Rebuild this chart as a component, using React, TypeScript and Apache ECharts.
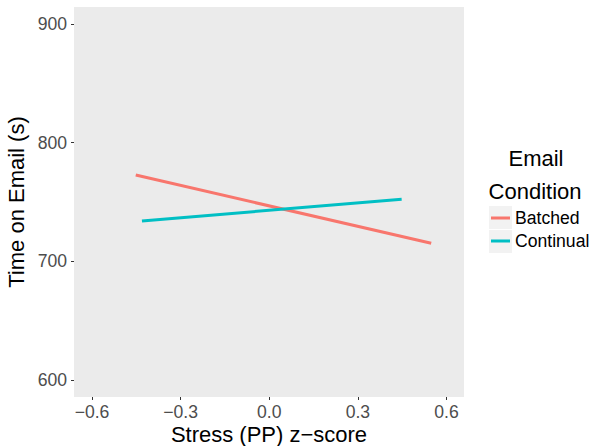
import React, { useEffect, useRef } from "react";
import * as echarts from "echarts";

const seriesNames = ["Batched", "Continual"];
const batchedX = [-0.452, 0.548];
const batchedY = [772.7, 715.2];
const continualX = [-0.431, 0.448];
const continualY = [734.0, 752.3];
const xTicks = [-0.6, -0.3, 0.0, 0.3, 0.6];
const yTicks = [600, 700, 800, 900];
const colors = ["#F8766D", "#00BFC4"];

const FONT = "Liberation Sans, Arial, Helvetica, sans-serif";

export default function App() {
  const ref = useRef<HTMLDivElement>(null);
  useEffect(() => {
    if (!ref.current) return;
    const chart = echarts.init(ref.current, null, { renderer: "svg" });
    const fmtX = (v: number) => (v < 0 ? "\u2212" + Math.abs(v).toFixed(1) : v.toFixed(1));
    chart.setOption({
      animation: false,
      backgroundColor: "#FFFFFF",
      textStyle: { fontFamily: FONT },
      grid: {
        left: 74,
        top: 7,
        width: 390,
        height: 390,
        show: true,
        backgroundColor: "#EBEBEB",
        borderWidth: 0,
        containLabel: false,
        outerBoundsMode: "none",
      },
      xAxis: {
        type: "value",
        min: -0.661,
        max: 0.659,
        name: "Stress (PP) z\u2212score",
        nameLocation: "middle",
        nameGap: 25,
        nameMoveOverlap: false,
        nameTextStyle: { color: "#000", fontSize: 22, lineHeight: 24, fontFamily: FONT },
        axisLine: { show: false, onZero: false },
        splitLine: { show: false },
        axisTick: { show: true, length: 3, lineStyle: { color: "#333" }, customValues: xTicks },
        axisLabel: {
          color: "#4D4D4D",
          fontSize: 17.6,
          fontFamily: FONT,
          margin: 6,
          customValues: xTicks,
          formatter: fmtX,
        },
      },
      yAxis: {
        type: "value",
        min: 585.7,
        max: 914.3,
        name: "Time on Email (s)",
        nameLocation: "middle",
        nameGap: 47,
        nameMoveOverlap: false,
        nameTextStyle: { color: "#000", fontSize: 22, fontFamily: FONT },
        axisLine: { show: false, onZero: false },
        splitLine: { show: false },
        axisTick: { show: true, length: 3, lineStyle: { color: "#333" }, customValues: yTicks },
        axisLabel: {
          color: "#4D4D4D",
          fontSize: 17.6,
          fontFamily: FONT,
          margin: 7,
          customValues: yTicks,
          formatter: (v: number) => String(Math.round(v)),
        },
      },
      legend: {
        orient: "vertical",
        left: 491,
        top: 209,
        padding: 0,
        icon: "rect",
        itemWidth: 19,
        itemHeight: 3,
        itemGap: 5,
        data: seriesNames,
        textStyle: { color: "#000", fontSize: 17.6, fontFamily: FONT },
      },
      graphic: [
        {
          type: "rect",
          shape: { x: 489, y: 206, width: 23, height: 23 },
          style: { fill: "#F2F2F2" },
          z: -1,
        },
        {
          type: "rect",
          shape: { x: 489, y: 230, width: 23, height: 23 },
          style: { fill: "#F2F2F2" },
          z: -1,
        },
        {
          type: "text",
          x: 536,
          y: 158,
          style: {
            text: "Email",
            fill: "#000",
            fontSize: 22,
            fontFamily: FONT,
            align: "center",
            verticalAlign: "middle",
          },
        },
        {
          type: "text",
          x: 535,
          y: 191,
          style: {
            text: "Condition",
            fill: "#000",
            fontSize: 22,
            fontFamily: FONT,
            align: "center",
            verticalAlign: "middle",
          },
        },
      ],
      series: [
        {
          name: seriesNames[0],
          type: "line",
          data: batchedX.map((x, i) => [x, batchedY[i]]),
          symbol: "none",
          lineStyle: { color: colors[0], width: 3 },
          itemStyle: { color: colors[0] },
        },
        {
          name: seriesNames[1],
          type: "line",
          data: continualX.map((x, i) => [x, continualY[i]]),
          symbol: "none",
          lineStyle: { color: colors[1], width: 3 },
          itemStyle: { color: colors[1] },
        },
      ],
    });
    return () => chart.dispose();
  }, []);
  return <div ref={ref} style={{ width: 592, height: 446, position: "absolute", left: 0, top: 0 }} />;
}
